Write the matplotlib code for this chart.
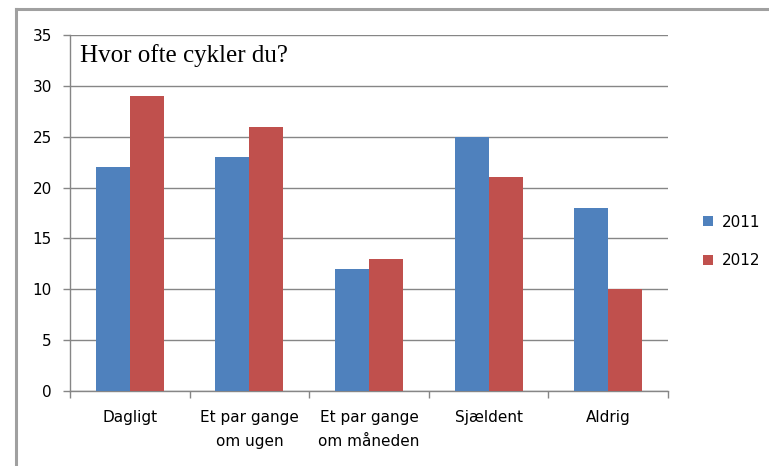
import numpy as np
import matplotlib.pyplot as plt
from matplotlib.lines import Line2D

categories = ["Dagligt", "Et par gange\nom ugen", "Et par gange\nom måneden", "Sjældent", "Aldrig"]
years = ["2011", "2012"]
values_2011 = [22, 23, 12, 25, 18]
values_2012 = [29, 26, 13, 21, 10]
yticks = [0, 5, 10, 15, 20, 25, 30, 35]

blue = "#4F81BD"
red = "#C0504D"
grey = "#868686"

fig = plt.figure(figsize=(7.69, 4.66), dpi=100)
ax = fig.add_axes([70/769, 1 - 391/466, 598/769, 356/466])

x = np.arange(len(categories))
w = 0.285
ax.bar(x - w/2, values_2011, w, color=blue, label=years[0], zorder=3)
ax.bar(x + w/2, values_2012, w, color=red, label=years[1], zorder=3)

ax.set_xlim(-0.5, len(categories) - 0.5)
ax.set_ylim(0, 35)
ax.set_yticks(yticks)
ax.yaxis.grid(True, color=grey, linewidth=1, zorder=0)
ax.set_xticks(x)
ax.set_xticklabels(categories, fontsize=11, linespacing=1.75)
ax.set_xticks(np.arange(-0.5, len(categories)), minor=True)
ax.tick_params(axis="x", which="major", length=0, pad=14)
ax.tick_params(axis="x", which="minor", length=5, color=grey, width=1)
ax.tick_params(axis="y", length=5, color=grey, width=1, labelsize=11, pad=8)
for side in ["top", "right"]:
    ax.spines[side].set_visible(False)
for side in ["left", "bottom"]:
    ax.spines[side].set_color(grey)
    ax.spines[side].set_linewidth(1)

ax.text(0.016, 0.975, "Hvor ofte cykler du?", transform=ax.transAxes,
        family="Liberation Serif", fontsize=18, va="top", ha="left")

ax.legend(loc="center left", bbox_to_anchor=(1.035, 0.42), frameon=False,
          fontsize=11, handlelength=0.65, handleheight=0.65, handletextpad=0.6,
          labelspacing=1.55)

# outer frame lines
fig.add_artist(Line2D([16/769, 1], [1 - 9/466, 1 - 9/466], color="#a0a0a0", lw=2.2))
fig.add_artist(Line2D([16/769, 16/769], [0, 1 - 9/466], color="#a0a0a0", lw=2.2))

fig.savefig("out.png", dpi=100)
